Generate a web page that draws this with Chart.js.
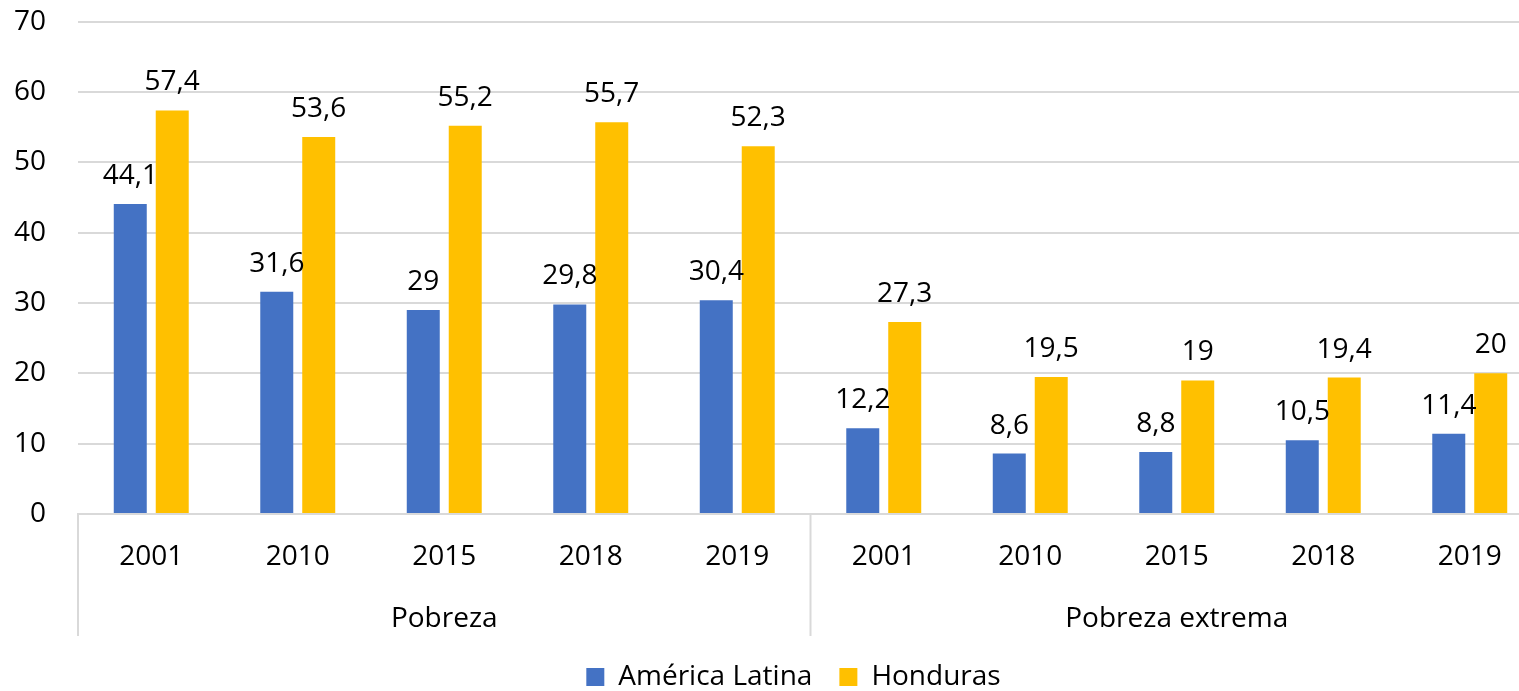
<!DOCTYPE html>
<html>
<head>
<meta charset="utf-8">
<script src="https://cdn.jsdelivr.net/npm/chart.js@4"></script>
<style>
  html, body { margin: 0; padding: 0; background: #fff; overflow: hidden; }
</style>
</head>
<body>
<canvas id="myChart" width="1560" height="691"></canvas>
<script>
const years = ['2001', '2010', '2015', '2018', '2019', '2001', '2010', '2015', '2018', '2019'];
const groups = ['Pobreza', 'Pobreza extrema'];
const americaLatina = [44.1, 31.6, 29, 29.8, 30.4, 12.2, 8.6, 8.8, 10.5, 11.4];
const honduras = [57.4, 53.6, 55.2, 55.7, 52.3, 27.3, 19.5, 19, 19.4, 20];
const yTicks = [0, 10, 20, 30, 40, 50, 60, 70];

const FONT = '"Open Sans", sans-serif';
const lineColor = '#d9d9d9';

// value labels on top of bars, with comma decimals
const barLabels = {
  id: 'barLabels',
  afterDatasetsDraw(chart) {
    const ctx = chart.ctx;
    ctx.save();
    ctx.font = '28px ' + FONT;
    ctx.fillStyle = '#000';
    ctx.textAlign = 'center';
    ctx.textBaseline = 'alphabetic';
    chart.data.datasets.forEach((ds, i) => {
      chart.getDatasetMeta(i).data.forEach((bar, j) => {
        ctx.fillText(String(ds.data[j]).replace('.', ','), bar.x, bar.y - 20);
      });
    });
    ctx.restore();
  }
};

// separators of the two category groups
const groupLines = {
  id: 'groupLines',
  afterLayout(chart) {
    // legend sits a bit right of the canvas centre in the original
    chart.legend.left += 22;
    chart.legend.right += 22;
  },
  afterDraw(chart) {
    const x = chart.scales.x;
    const x2 = chart.scales.x2;
    const ctx = chart.ctx;
    const half = years.length / 2;
    const mid = (x.getPixelForValue(half - 1) + x.getPixelForValue(half)) / 2;
    ctx.save();
    ctx.strokeStyle = lineColor;
    ctx.lineWidth = 2;
    [x.left, mid, x.right].forEach(px => {
      ctx.beginPath();
      ctx.moveTo(px, x.top);
      ctx.lineTo(px, x2.bottom);
      ctx.stroke();
    });
    ctx.restore();
  }
};

const ctx = document.getElementById('myChart');

new Chart(ctx, {
  type: 'bar',
  data: {
    labels: years,
    datasets: [{
      label: 'América Latina',
      data: americaLatina,
      backgroundColor: '#4472C4',
      categoryPercentage: 0.573,
      barPercentage: 0.786
    }, {
      label: 'Honduras',
      data: honduras,
      backgroundColor: '#FFC000',
      categoryPercentage: 0.573,
      barPercentage: 0.786
    }]
  },
  options: {
    responsive: false,
    animation: false,
    layout: { padding: { top: 0, right: 17, bottom: -10, left: 0 } },
    plugins: {
      tooltip: { enabled: false },
      legend: {
        position: 'bottom',
        labels: {
          font: { family: FONT, size: 28 },
          color: '#000',
          boxWidth: 18,
          boxHeight: 18,
          padding: 27
        }
      }
    },
    scales: {
      x: {
        grid: { display: false },
        border: { display: true, color: lineColor, width: 2 },
        ticks: { font: { family: FONT, size: 28 }, color: '#000', padding: 18, maxRotation: 0, autoSkip: false },
        afterFit(scale) { scale.height = 62; }
      },
      x2: {
        type: 'category',
        labels: groups,
        position: 'bottom',
        offset: true,
        grid: { display: false },
        border: { display: false },
        ticks: { font: { family: FONT, size: 28 }, color: '#000', padding: 18, maxRotation: 0 },
        afterFit(scale) { scale.height = 60; }
      },
      y: {
        min: 0,
        max: 70,
        afterBuildTicks(scale) { scale.ticks = yTicks.map(v => ({ value: v })); },
        grid: { color: lineColor, lineWidth: 2, drawTicks: true, tickLength: 27, tickColor: 'rgba(0,0,0,0)' },
        border: { display: false },
        ticks: { font: { family: FONT, size: 28 }, color: '#000', padding: 5 },
        afterFit(scale) { scale.width = 78; }
      }
    }
  },
  plugins: [barLabels, groupLines]
});
</script>
</body>
</html>
